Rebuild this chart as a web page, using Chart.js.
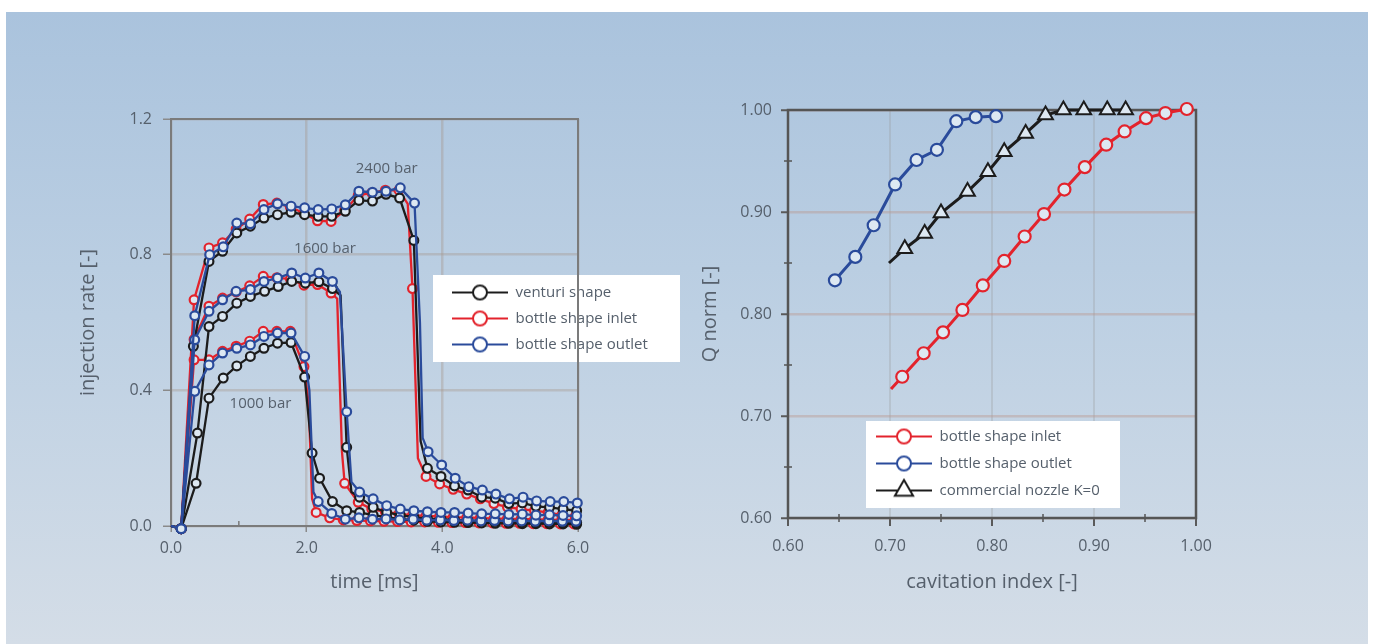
<!DOCTYPE html>
<html>
<head>
<meta charset="utf-8">
<script src="https://cdn.jsdelivr.net/npm/chart.js@4.4.0/dist/chart.umd.min.js"></script>
<style>
  html, body { margin: 0; padding: 0; background: #ffffff; width: 1373px; height: 644px; overflow: hidden; }
  #panel { position: absolute; left: 6px; top: 12px; width: 1362px; height: 632px;
           background: linear-gradient(180deg, #aac3dd 0%, #bdd0e3 48%, #d4dde7 100%); }
  .wrap { position: absolute; }
  #wrapL { left: 60px; top: 90px; width: 630px; height: 520px; }
  #wrapR { left: 680px; top: 80px; width: 560px; height: 530px; }
</style>
</head>
<body>
<div id="panel"></div>
<div class="wrap" id="wrapR"><canvas id="rightChart" width="560" height="530"></canvas></div>
<div class="wrap" id="wrapL"><canvas id="leftChart" width="630" height="520"></canvas></div>
<script>
// ---------------- Left chart: injection rate vs time ----------------
const timeTicks = [0, 2, 4, 6];
const timeTickLabels = ['0.0', '2.0', '4.0', '6.0'];
const rateTicks = [0, 0.4, 0.8, 1.2];
const rateTickLabels = ['0.0', '0.4', '0.8', '1.2'];
const shapeNames = ['venturi shape', 'bottle shape inlet', 'bottle shape outlet'];
const pressureNames = ['2400 bar', '1600 bar', '1000 bar'];
const pressureLabelTime = [3.18, 2.27, 1.32];
const pressureLabelRate = [1.052, 0.818, 0.36];

// [time ms, injection rate] at the plotted markers
const venturi2400 = [[0.15,-0.008],[0.33,0.53],[0.56,0.78],[0.76,0.81],[0.97,0.864],[1.17,0.884],[1.37,0.908],[1.57,0.918],[1.77,0.925],[1.97,0.918],[2.17,0.913],[2.37,0.913],[2.57,0.928],[2.77,0.96],[2.97,0.958],[3.17,0.978],[3.37,0.967],[3.58,0.842],[3.78,0.17],[3.98,0.146],[4.18,0.118],[4.38,0.106],[4.58,0.085],[4.78,0.082],[4.98,0.066],[5.18,0.068],[5.38,0.058],[5.58,0.055],[5.78,0.05],[5.98,0.045]];
const inlet2400 = [[0.15,-0.008],[0.34,0.667],[0.56,0.82],[0.76,0.835],[0.96,0.875],[1.16,0.905],[1.36,0.948],[1.56,0.952],[1.76,0.94],[1.96,0.922],[2.16,0.9],[2.36,0.898],[2.56,0.93],[2.76,0.975],[2.96,0.982],[3.16,0.99],[3.36,0.99],[3.56,0.70],[3.76,0.146],[3.96,0.124],[4.16,0.108],[4.36,0.094],[4.56,0.08],[4.76,0.066],[4.96,0.056],[5.16,0.05],[5.36,0.045],[5.56,0.04],[5.76,0.032],[5.96,0.028]];
const outlet2400 = [[0.15,-0.008],[0.35,0.62],[0.57,0.80],[0.77,0.823],[0.97,0.893],[1.17,0.891],[1.37,0.933],[1.57,0.95],[1.77,0.943],[1.97,0.938],[2.17,0.933],[2.37,0.935],[2.57,0.947],[2.77,0.987],[2.97,0.984],[3.17,0.987],[3.38,0.997],[3.59,0.952],[3.79,0.219],[3.99,0.18],[4.19,0.141],[4.39,0.116],[4.59,0.106],[4.79,0.094],[4.99,0.08],[5.19,0.085],[5.39,0.074],[5.59,0.072],[5.79,0.072],[5.99,0.068]];

const venturi1600 = [[0.15,-0.008],[0.39,0.274],[0.56,0.588],[0.76,0.618],[0.97,0.657],[1.17,0.677],[1.38,0.692],[1.58,0.706],[1.78,0.721],[1.98,0.716],[2.18,0.72],[2.38,0.70],[2.59,0.232],[2.78,0.085],[2.98,0.055],[3.18,0.04],[3.38,0.032],[3.58,0.026],[3.78,0.022],[3.98,0.02],[4.18,0.018],[4.38,0.016],[4.58,0.015],[4.78,0.014],[4.98,0.013],[5.18,0.012],[5.38,0.012],[5.58,0.011],[5.78,0.01],[5.98,0.01]];
const inlet1600 = [[0.15,-0.008],[0.34,0.55],[0.56,0.648],[0.76,0.672],[0.96,0.69],[1.16,0.708],[1.36,0.736],[1.56,0.732],[1.76,0.728],[1.96,0.71],[2.16,0.712],[2.36,0.687],[2.56,0.126],[2.76,0.07],[2.96,0.05],[3.16,0.042],[3.36,0.036],[3.56,0.032],[3.76,0.03],[3.96,0.028],[4.16,0.026],[4.36,0.025],[4.56,0.024],[4.76,0.022],[4.96,0.022],[5.16,0.02],[5.36,0.02],[5.56,0.019],[5.76,0.018],[5.96,0.018]];
const outlet1600 = [[0.15,-0.008],[0.35,0.549],[0.56,0.633],[0.76,0.667],[0.96,0.692],[1.17,0.697],[1.37,0.721],[1.57,0.731],[1.78,0.746],[1.98,0.731],[2.18,0.746],[2.38,0.721],[2.59,0.337],[2.78,0.10],[2.98,0.08],[3.18,0.06],[3.38,0.05],[3.58,0.045],[3.78,0.042],[3.98,0.04],[4.18,0.04],[4.38,0.038],[4.58,0.036],[4.78,0.036],[4.98,0.034],[5.18,0.035],[5.38,0.032],[5.58,0.033],[5.78,0.031],[5.98,0.03]];

const venturi1000 = [[0.15,-0.008],[0.37,0.126],[0.56,0.377],[0.77,0.436],[0.97,0.472],[1.17,0.50],[1.37,0.524],[1.57,0.539],[1.77,0.541],[1.97,0.439],[2.08,0.215],[2.19,0.141],[2.38,0.072],[2.59,0.045],[2.78,0.040],[2.98,0.032],[3.18,0.026],[3.38,0.02],[3.58,0.017],[3.78,0.014],[3.98,0.012],[4.18,0.011],[4.38,0.01],[4.58,0.009],[4.78,0.008],[4.98,0.008],[5.18,0.007],[5.38,0.007],[5.58,0.006],[5.78,0.006],[5.98,0.005]];
const inlet1000 = [[0.15,-0.008],[0.34,0.49],[0.56,0.49],[0.76,0.515],[0.96,0.53],[1.16,0.545],[1.36,0.574],[1.56,0.574],[1.76,0.574],[1.96,0.47],[2.14,0.04],[2.34,0.024],[2.54,0.018],[2.74,0.016],[2.94,0.015],[3.14,0.014],[3.34,0.013],[3.54,0.012],[3.74,0.012],[3.94,0.011],[4.14,0.01],[4.34,0.01],[4.54,0.009],[4.74,0.009],[4.94,0.008],[5.14,0.008],[5.34,0.007],[5.54,0.007],[5.74,0.006],[5.94,0.006]];
const outlet1000 = [[0.15,-0.008],[0.35,0.397],[0.56,0.475],[0.76,0.51],[0.97,0.524],[1.17,0.534],[1.37,0.559],[1.57,0.569],[1.77,0.569],[1.97,0.50],[2.17,0.072],[2.37,0.037],[2.57,0.02],[2.77,0.024],[2.97,0.02],[3.17,0.021],[3.37,0.018],[3.57,0.02],[3.77,0.017],[3.97,0.018],[4.17,0.016],[4.37,0.017],[4.57,0.015],[4.77,0.016],[4.97,0.015],[5.17,0.015],[5.37,0.014],[5.57,0.015],[5.77,0.014],[5.97,0.014]];

// line-only vertices (no marker drawn) where the traces bend between markers
const venturi2400Bends = [[0, 0], [3.68, 0.25]];
const inlet2400Bends = [[0, 0], [3.49, 0.95], [3.64, 0.20]];
const outlet2400Bends = [[0, 0], [3.67, 0.60], [3.71, 0.26]];
const venturi1600Bends = [[0, 0], [2.50, 0.68], [2.66, 0.10]];
const inlet1600Bends = [[0, 0], [2.45, 0.67], [2.52, 0.22]];
const outlet1600Bends = [[0, 0], [2.49, 0.69], [2.66, 0.13]];
const venturi1000Bends = [[0, 0]];
const inlet1000Bends = [[0, 0], [2.03, 0.36], [2.08, 0.08]];
const outlet1000Bends = [[0, 0], [2.04, 0.40], [2.10, 0.10]];

// ---------------- Right chart: Q norm vs cavitation index ----------------
const cavTicks = [0.6, 0.7, 0.8, 0.9, 1.0];
const cavTickLabels = ['0.60', '0.70', '0.80', '0.90', '1.00'];
const qTicks = [0.6, 0.7, 0.8, 0.9, 1.0];
const qTickLabels = ['0.60', '0.70', '0.80', '0.90', '1.00'];
const cavSeriesNames = ['bottle shape inlet', 'bottle shape outlet', 'commercial nozzle K=0'];

const cavInlet = [[0.712,0.7385],[0.733,0.7615],[0.752,0.782],[0.771,0.804],[0.791,0.828],[0.812,0.852],[0.832,0.876],[0.851,0.898],[0.871,0.922],[0.891,0.944],[0.912,0.966],[0.930,0.979],[0.951,0.992],[0.970,0.997],[0.991,1.001]];
const cavInletBends = [[0.701, 0.7265]];
const cavOutlet = [[0.646,0.833],[0.666,0.856],[0.684,0.887],[0.705,0.927],[0.726,0.951],[0.746,0.961],[0.765,0.989],[0.784,0.993],[0.804,0.994]];
const cavOutletBends = [];
const cavCommercial = [[0.7145,0.864],[0.734,0.879],[0.750,0.899],[0.776,0.920],[0.796,0.9395],[0.812,0.959],[0.833,0.977],[0.8525,0.995],[0.870,1.0],[0.890,1.0],[0.913,1.0],[0.931,1.0]];
const cavCommercialBends = [[0.699, 0.850]];

// ---------------- styling ----------------
const FONT = "'Open Sans', 'Noto Sans', 'DejaVu Sans', sans-serif";
const TEXT = '#56606c';
const BLACK = '#1c1c1c', RED = '#e3232c', BLUE = '#2a4b9b';
const MARKER_FILL = '#dde8f2';
Chart.defaults.font.family = FONT;
Chart.defaults.color = TEXT;

function buildPoints(markers, bends) {
  return markers.map(p => ({ x: p[0], y: p[1], m: true }))
    .concat((bends || []).map(p => ({ x: p[0], y: p[1], m: false })))
    .sort((a, b) => a.x - b.x);
}

function series(label, markers, bends, color, style, radius, pbw, lw) {
  return {
    label,
    data: buildPoints(markers, bends),
    borderColor: color,
    backgroundColor: MARKER_FILL,
    borderWidth: lw,
    pointStyle: style,
    pointRadius: c => (c.raw && c.raw.m) ? radius : 0,
    pointHoverRadius: 0,
    pointBorderWidth: pbw,
    pointBorderColor: color,
    pointBackgroundColor: MARKER_FILL,
    tension: 0,
    fill: false,
    clip: false
  };
}

function makeIcon(color, style, r) {
  const c = document.createElement('canvas');
  c.width = 56; c.height = 26;
  const g = c.getContext('2d');
  g.strokeStyle = color; g.lineWidth = 2;
  g.beginPath(); g.moveTo(0, 13); g.lineTo(56, 13); g.stroke();
  g.fillStyle = '#ffffff'; g.lineWidth = 2;
  if (Chart.helpers && Chart.helpers.drawPoint) {
    Chart.helpers.drawPoint(g, { pointStyle: style, radius: r, borderWidth: 2, rotation: 0 }, 28, 13);
  } else {
    g.beginPath(); g.arc(28, 13, r, 0, Math.PI * 2); g.fill(); g.stroke();
  }
  return c;
}

function legendItems(names, colors, styles, radii) {
  return names.map((n, i) => ({
    text: n,
    pointStyle: makeIcon(colors[i], styles[i], radii[i]),
    fillStyle: 'rgba(0,0,0,0)', strokeStyle: 'rgba(0,0,0,0)', lineWidth: 0,
    fontColor: TEXT, hidden: false, datasetIndex: i
  }));
}

const leftLegend = legendItems(shapeNames, [BLACK, RED, BLUE], ['circle', 'circle', 'circle'], [7, 7, 7]);
const rightLegend = legendItems(cavSeriesNames, [RED, BLUE, BLACK], ['circle', 'circle', 'triangle'], [7, 7, 10.5]);

// legend floated inside the plot on a white card
const floatLegend = {
  id: 'floatLegend',
  afterUpdate(chart, args, o) {
    const lg = chart.legend;
    if (!lg) return;
    const a = chart.chartArea;
    lg.left = a.left + o.x; lg.top = a.top + o.y;
    lg.width = o.w; lg.height = o.h;
    lg.right = lg.left + o.w; lg.bottom = lg.top + o.h;
    if (!lg._cardWrapped) {
      const orig = lg.draw;
      lg.draw = function (area) {
        const opt = chart.options.plugins.floatLegend;
        const ca = chart.chartArea;
        const ctx = chart.ctx;
        ctx.save();
        ctx.fillStyle = opt.background;
        ctx.fillRect(ca.left + opt.boxX, ca.top + opt.boxY, opt.boxW, opt.boxH);
        ctx.restore();
        orig.call(this, area);
      };
      lg._cardWrapped = true;
    }
  }
};

// plot frame and minor ticks
const framePlugin = {
  id: 'frame',
  beforeDatasetsDraw(chart, args, o) {
    const { ctx, chartArea: a, scales } = chart;
    ctx.save();
    ctx.strokeStyle = o.color;
    ctx.lineWidth = o.width;
    ctx.strokeRect(a.left, a.top, a.right - a.left, a.bottom - a.top);
    ctx.lineWidth = o.minorWidth;
    const minor = (scale, horizontal) => {
      const t = scale.ticks;
      for (let i = 0; i < t.length - 1; i++) {
        const p = scale.getPixelForValue((t[i].value + t[i + 1].value) / 2);
        ctx.beginPath();
        if (horizontal) { ctx.moveTo(p, a.bottom - o.minorIn); ctx.lineTo(p, a.bottom + o.minorOut); }
        else { ctx.moveTo(a.left - o.minorOut, p); ctx.lineTo(a.left + o.minorIn, p); }
        ctx.stroke();
      }
    };
    if (o.minorX) minor(scales.x, true);
    if (o.minorY) minor(scales.y, false);
    ctx.restore();
  }
};

// pressure annotations for the left chart
const pressurePlugin = {
  id: 'pressureLabels',
  afterDatasetsDraw(chart, args, o) {
    const { ctx, scales: { x, y } } = chart;
    ctx.save();
    ctx.font = o.size + 'px ' + FONT;
    ctx.fillStyle = o.color;
    ctx.textAlign = 'center';
    ctx.textBaseline = 'middle';
    pressureNames.forEach((n, i) => {
      ctx.fillText(n, x.getPixelForValue(pressureLabelTime[i]), y.getPixelForValue(pressureLabelRate[i]));
    });
    ctx.restore();
  }
};

const tickFont = { family: FONT, size: 16 };
const titleFont = { family: FONT, size: 20 };
const legendFont = { family: FONT, size: 15 };

// ---------------- Left chart ----------------
const LR = 4.4, LPB = 2.2, LLW = 2.3;
new Chart(document.getElementById('leftChart'), {
  type: 'line',
  data: {
    datasets: [
      series('bottle shape outlet 2400', outlet2400, outlet2400Bends, BLUE, 'circle', LR, LPB, LLW),
      series('bottle shape outlet 1600', outlet1600, outlet1600Bends, BLUE, 'circle', LR, LPB, LLW),
      series('bottle shape outlet 1000', outlet1000, outlet1000Bends, BLUE, 'circle', LR, LPB, LLW),
      series('venturi shape 2400', venturi2400, venturi2400Bends, BLACK, 'circle', LR, LPB, LLW),
      series('venturi shape 1600', venturi1600, venturi1600Bends, BLACK, 'circle', LR, LPB, LLW),
      series('venturi shape 1000', venturi1000, venturi1000Bends, BLACK, 'circle', LR, LPB, LLW),
      series('bottle shape inlet 2400', inlet2400, inlet2400Bends, RED, 'circle', LR, LPB, LLW),
      series('bottle shape inlet 1600', inlet1600, inlet1600Bends, RED, 'circle', LR, LPB, LLW),
      series('bottle shape inlet 1000', inlet1000, inlet1000Bends, RED, 'circle', LR, LPB, LLW)
    ]
  },
  options: {
    responsive: false,
    animation: false,
    events: [],
    layout: { padding: { left: 0, top: 29, right: 112, bottom: 0 } },
    scales: {
      x: {
        type: 'linear', min: 0, max: 6,
        afterBuildTicks: s => { s.ticks = timeTicks.map(v => ({ value: v })); },
        afterFit: s => { s.height = 84; },
        ticks: { callback: (v, i) => timeTickLabels[i], font: tickFont, color: TEXT, padding: 7, maxRotation: 0, autoSkip: false },
        grid: { color: 'rgba(165,150,140,0.38)', lineWidth: 2.5, tickLength: 6, tickColor: '#8a8a8a', tickWidth: 1.5 },
        border: { display: false },
        title: { display: true, text: 'time [ms]', font: titleFont, color: TEXT, padding: { top: 4, bottom: 16 } }
      },
      y: {
        type: 'linear', min: 0, max: 1.2,
        afterBuildTicks: s => { s.ticks = rateTicks.map(v => ({ value: v })); },
        afterFit: s => { s.width = 111; },
        ticks: { callback: (v, i) => rateTickLabels[i], font: tickFont, color: TEXT, padding: 11, autoSkip: false },
        grid: { color: 'rgba(165,150,140,0.38)', lineWidth: 2.5, tickLength: 8, tickColor: '#8a8a8a', tickWidth: 1.5 },
        border: { display: false },
        title: { display: true, text: 'injection rate [-]', font: titleFont, color: TEXT, padding: { top: 16, bottom: 4 } }
      }
    },
    plugins: {
      legend: {
        display: true, position: 'chartArea', align: 'start', onClick: null,
        labels: { usePointStyle: true, pointStyleWidth: 56, boxHeight: 15, padding: 11,
                  font: legendFont, color: TEXT, generateLabels: () => leftLegend }
      },
      tooltip: { enabled: false },
      floatLegend: { x: 270, y: 155, w: 280, h: 100, boxX: 262, boxY: 156, boxW: 247, boxH: 87, background: '#ffffff' },
      frame: { color: '#7b7b7b', width: 2, minorWidth: 1.5, minorIn: 5, minorOut: 0, minorX: true, minorY: false },
      pressureLabels: { size: 15, color: TEXT }
    }
  },
  plugins: [floatLegend, framePlugin, pressurePlugin]
});

// ---------------- Right chart ----------------
new Chart(document.getElementById('rightChart'), {
  type: 'line',
  data: {
    datasets: [
      series(cavSeriesNames[0], cavInlet, cavInletBends, RED, 'circle', 6, 2.2, 3),
      series(cavSeriesNames[1], cavOutlet, cavOutletBends, BLUE, 'circle', 6, 2.2, 3),
      series(cavSeriesNames[2], cavCommercial, cavCommercialBends, BLACK, 'triangle', 8.5, 2, 3)
    ]
  },
  options: {
    responsive: false,
    animation: false,
    events: [],
    layout: { padding: { left: 0, top: 30, right: 44, bottom: 0 } },
    scales: {
      x: {
        type: 'linear', min: 0.6, max: 1.0,
        afterBuildTicks: s => { s.ticks = cavTicks.map(v => ({ value: v })); },
        afterFit: s => { s.height = 92; },
        ticks: { callback: (v, i) => cavTickLabels[i], font: tickFont, color: TEXT, padding: 11, maxRotation: 0, autoSkip: false },
        grid: { color: 'rgba(150,150,150,0.28)', lineWidth: 2, tickLength: 8, tickColor: '#5a5a5a', tickWidth: 2 },
        border: { display: false },
        title: { display: true, text: 'cavitation index [-]', font: titleFont, color: TEXT, padding: { top: 4, bottom: 16 } }
      },
      y: {
        type: 'linear', min: 0.6, max: 1.0,
        afterBuildTicks: s => { s.ticks = qTicks.map(v => ({ value: v })); },
        afterFit: s => { s.width = 108; },
        ticks: { callback: (v, i) => qTickLabels[i], font: tickFont, color: TEXT, padding: 9, autoSkip: false },
        grid: { color: 'rgba(185,150,140,0.42)', lineWidth: 2.5, tickLength: 7, tickColor: '#5a5a5a', tickWidth: 2 },
        border: { display: false },
        title: { display: true, text: 'Q norm [-]', font: titleFont, color: TEXT, padding: { top: 18, bottom: 4 } }
      }
    },
    plugins: {
      legend: {
        display: true, position: 'chartArea', align: 'start', onClick: null,
        labels: { usePointStyle: true, pointStyleWidth: 56, boxHeight: 15, padding: 12,
                  font: legendFont, color: TEXT, generateLabels: () => rightLegend }
      },
      tooltip: { enabled: false },
      floatLegend: { x: 76, y: 307, w: 280, h: 100, boxX: 78, boxY: 311, boxW: 254, boxH: 87, background: '#ffffff' },
      frame: { color: '#555555', width: 2.5, minorWidth: 1.5, minorIn: 4, minorOut: 4, minorX: true, minorY: true }
    }
  },
  plugins: [floatLegend, framePlugin]
});
</script>
</body>
</html>
